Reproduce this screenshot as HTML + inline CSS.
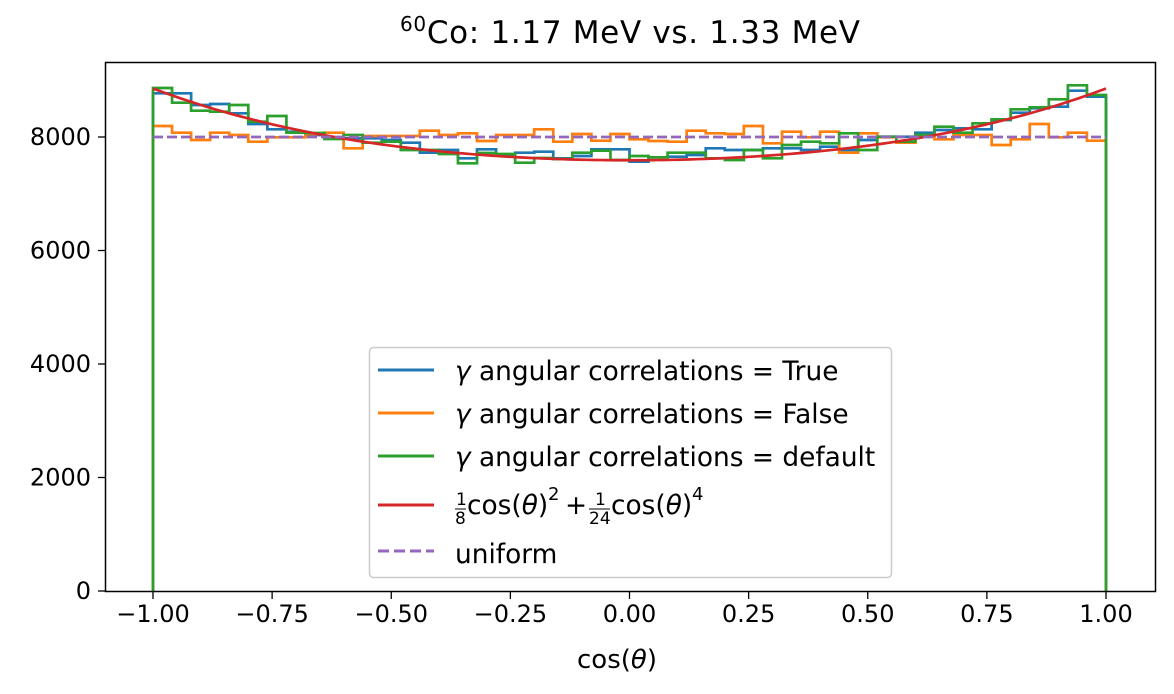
<!DOCTYPE html>
<html><head><meta charset="utf-8"><style>
html,body{margin:0;padding:0;background:#fff;}
svg{display:block;font-family:"DejaVu Sans","Liberation Sans",sans-serif;}
</style></head><body>
<svg id="s" width="1174" height="694" viewBox="0 0 1174 694" xmlns="http://www.w3.org/2000/svg">
<rect width="1174" height="694" fill="#fff"/>
<g id="plot"></g>
<rect x="105.5" y="62.5" width="1050" height="529" fill="none" stroke="#000" stroke-width="1.5"/>
<g id="ticks" style="font-size:24px" fill="#000"></g>
<text x="630" y="43" style="font-size:31px" text-anchor="middle" textLength="460"><tspan style="font-size:20px" dy="-12">60</tspan><tspan dy="12">Co: 1.17 MeV vs. 1.33 MeV</tspan></text>
<text x="617" y="668" style="font-size:26px" text-anchor="middle">cos(<tspan font-style="italic">θ</tspan>)</text>
<g>
<rect x="369.5" y="347.5" width="522" height="230" rx="4" fill="#fff" fill-opacity="0.85" stroke="#ccc" stroke-width="1.5"/>
<line x1="378" y1="370" x2="434" y2="370" stroke="#1f77b4" stroke-width="3"/>
<line x1="378" y1="413" x2="434" y2="413" stroke="#ff7f0e" stroke-width="3"/>
<line x1="378" y1="456" x2="434" y2="456" stroke="#2ca02c" stroke-width="3"/>
<line x1="378" y1="505" x2="434" y2="505" stroke="#d62728" stroke-width="3"/>
<line x1="378" y1="551" x2="434" y2="551" stroke="#9467bd" stroke-width="3" stroke-dasharray="11,5"/>
<g style="font-size:26.4px">
<text x="455" y="380"><tspan font-style="italic">γ</tspan> angular correlations = True</text>
<text x="455" y="423"><tspan font-style="italic">γ</tspan> angular correlations = False</text>
<text x="455" y="466"><tspan font-style="italic">γ</tspan> angular correlations = default</text>
<text x="455" y="563">uniform</text>
<text x="456" y="505" style="font-size:17px">1</text>
<text x="455" y="524" style="font-size:17px">8</text>
<line x1="455" y1="509" x2="466" y2="509" stroke="#000" stroke-width="1"/>
<text x="467" y="514">cos(<tspan font-style="italic">θ</tspan>)</text>
<text x="548" y="500" style="font-size:18px">2</text>
<text x="565" y="514">+</text>
<text x="595" y="505" style="font-size:17px">1</text>
<text x="589" y="524" style="font-size:17px">24</text>
<line x1="589" y1="509" x2="610" y2="509" stroke="#000" stroke-width="1"/>
<text x="611" y="514">cos(<tspan font-style="italic">θ</tspan>)</text>
<text x="692" y="500" style="font-size:18px">4</text>
</g>
</g>
</svg>
<script>
const NS="http://www.w3.org/2000/svg";
const X0=153,X1=1106,Y0=591,ys=0.05675;
const bw=(X1-X0)/50;
const blue=[93.3,93.3,105,104,113.3,124,129.3,131.7,135,138.3,138.3,138.3,140,142.7,152.7,150,158.3,149.3,155,152.7,151.7,158.3,156,149.3,149.3,161.7,157.3,156.7,155,148.3,150,150,148.3,148.3,150,146.7,150,140,136.7,136.7,132.7,130,128.3,129.3,120,112.7,108.3,106.7,90.7,96.7];
const orange=[126,132.7,140,132.7,135,141.7,137.3,137.3,134,132.7,148.3,136,136,136,130.7,135,133.3,141,135,135,129.3,141.7,134,140.7,134,139.3,141,141.7,130.7,133.3,134,126,143.3,131.7,137.3,131.7,152.7,133.3,137.3,142.7,136,139.3,135,135,145,139.3,124,137.3,132.7,140.7];
const green=[88,102.7,110.7,111.7,105,121.7,116,132.7,133,139,135,142.7,141.7,150,150,154,163.3,153,154,162.7,158,159,152.7,150.7,160,156,157.3,152.7,152.7,158.3,160,150,158.3,145,141.7,143.3,133.3,150,136.7,141.7,135,126.7,132.7,123.3,119.3,109.3,107.3,99.3,85.3,95];
const g=document.getElementById('plot');
function step(arr,col){let d=`M${X0},${Y0}`;arr.forEach((y,i)=>{d+=` L${X0+i*bw},${y} L${X0+(i+1)*bw},${y}`});d+=` L${X1},${Y0}`;
const p=document.createElementNS(NS,'path');p.setAttribute('d',d);p.setAttribute('fill','none');p.setAttribute('stroke',col);p.setAttribute('stroke-width','2.7');g.appendChild(p);}
step(blue,'#1f77b4');step(orange,'#ff7f0e');step(green,'#2ca02c');
let d='';for(let i=0;i<=200;i++){const c=-1+i/100;const v=7590*(1+c*c/8+c*c*c*c/24);d+=(i?' L':'M')+(X0+(c+1)/2*(X1-X0))+','+(Y0-v*ys);}
let p=document.createElementNS(NS,'path');p.setAttribute('d',d);p.setAttribute('fill','none');p.setAttribute('stroke','#d62728');p.setAttribute('stroke-width','2.7');g.appendChild(p);
p=document.createElementNS(NS,'line');p.setAttribute('x1',X0);p.setAttribute('x2',X1);p.setAttribute('y1',Y0-8000*ys);p.setAttribute('y2',Y0-8000*ys);p.setAttribute('stroke','#9467bd');p.setAttribute('stroke-width','2.7');p.setAttribute('stroke-dasharray','10,4');g.appendChild(p);
const t=document.getElementById('ticks');
for(let k=0;k<=8;k++){const v=-1+k*0.25;const x=X0+(v+1)/2*(X1-X0);
const l=document.createElementNS(NS,'line');l.setAttribute('x1',x);l.setAttribute('x2',x);l.setAttribute('y1',592);l.setAttribute('y2',599);l.setAttribute('stroke','#000');l.setAttribute('stroke-width','1.3');t.appendChild(l);
const tx=document.createElementNS(NS,'text');tx.setAttribute('x',x);tx.setAttribute('y',622);tx.setAttribute('text-anchor','middle');tx.textContent=(v<0?'\u2212':'')+Math.abs(v).toFixed(2);t.appendChild(tx);}
for(let k=0;k<=4;k++){const v=k*2000;const y=Y0-v*ys;
const l=document.createElementNS(NS,'line');l.setAttribute('x1',98);l.setAttribute('x2',105);l.setAttribute('y1',y);l.setAttribute('y2',y);l.setAttribute('stroke','#000');l.setAttribute('stroke-width','1.3');t.appendChild(l);
const tx=document.createElementNS(NS,'text');tx.setAttribute('x',91);tx.setAttribute('y',y+8);tx.setAttribute('text-anchor','end');tx.textContent=v;t.appendChild(tx);}
</script>
</body></html>
